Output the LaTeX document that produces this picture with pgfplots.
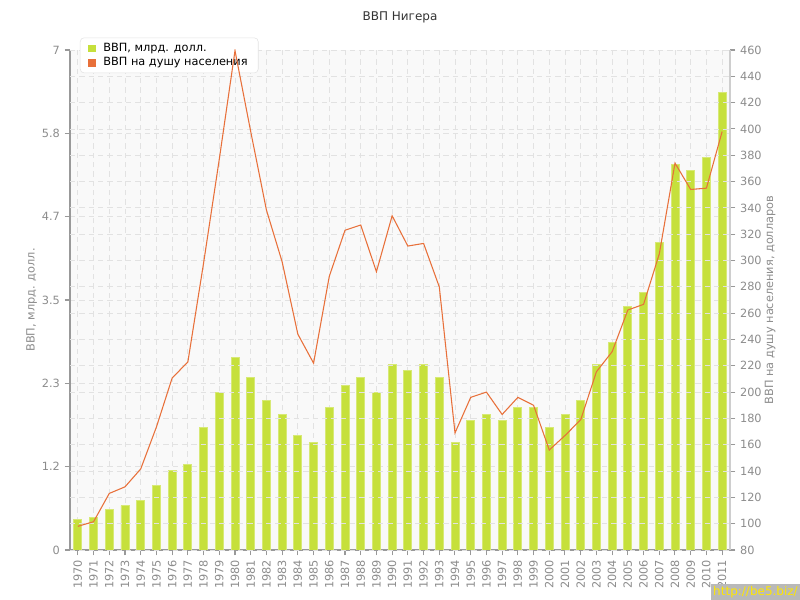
\documentclass[border=0pt]{standalone}
\usepackage{pgfplots}
\usepackage{pgfplotstable}
\pgfplotsset{compat=1.18}
\usepackage{fontspec}
\setmainfont{DejaVu Sans}

\definecolor{barc}{HTML}{C6E03C}
\definecolor{linec}{HTML}{E8703A}
\definecolor{gridc}{HTML}{E2E2E2}
\definecolor{axc}{HTML}{999999}
\definecolor{txtc}{HTML}{8C8C8C}
\definecolor{bgc}{HTML}{F9F9F9}

% year, GDP (bn USD), GDP per capita (USD)
\pgfplotstableread{
year gdp pc
1970 0.43 98
1971 0.46 101.5
1972 0.57 123
1973 0.62 128
1974 0.70 141.6
1975 0.90 173.5
1976 1.11 210.7
1977 1.20 222.9
1978 1.71 298
1979 2.21 377
1980 2.70 459.5
1981 2.41 398
1982 2.10 338.4
1983 1.90 299
1984 1.61 244
1985 1.51 222
1986 2.00 288
1987 2.31 323
1988 2.41 327
1989 2.21 291.5
1990 2.60 334
1991 2.51 311
1992 2.60 313
1993 2.41 280
1994 1.50 169
1995 1.81 196
1996 1.90 200
1997 1.81 183
1998 2.00 196
1999 2.00 190
2000 1.71 156
2001 1.90 167
2002 2.10 179
2003 2.60 215.5
2004 2.90 230.7
2005 3.41 262.4
2006 3.61 266.7
2007 4.31 305
2008 5.40 374
2009 5.31 354
2010 5.50 355
2011 6.41 398
}\niger

\begin{document}
\begin{tikzpicture}
\useasboundingbox (0pt,0pt) rectangle (600pt,450pt);
\fill[bgc] (52.5pt,37.5pt) rectangle (547.5pt,412.5pt);

\pgfplotsset{
  base/.style={
    scale only axis, width=495pt, height=375pt,
    at={(52.5pt,37.5pt)}, anchor=south west,
    xmin=1969.5, xmax=2011.5,
    font=\fontsize{8.5}{10}\selectfont,
    /pgf/number format/assume math mode=true,
    tick style={axc, line width=0.8pt},
    major tick length=4pt,
    grid style={gridc, dashed, dash pattern=on 4pt off 3pt, line width=0.6pt},
  },
  sq/.style={legend image code/.code={
    \fill[#1, sharp corners] (0pt,-2.5pt) rectangle (5pt,2.5pt);
    \fill[white, opacity=0, sharp corners] (5pt,-2.5pt) rectangle (9pt,2.5pt);}},
}

% bars, left axis
\begin{axis}[base,
  axis y line*=left, axis x line*=bottom,
  axis line style={axc, line width=0.8pt, -},
  ymin=0, ymax=7,
  ytick={0,1.16667,2.33333,3.5,4.66667,5.83333,7},
  yticklabels={0,1.2,2.3,3.5,4.7,5.8,7},
  yticklabel style={txtc},
  xtick={1970,...,2011},
  xticklabel style={txtc, rotate=90, anchor=east, /pgf/number format/1000 sep=},
  xmajorgrids, ymajorgrids,
  tick align=outside,
  ylabel={ВВП, млрд. долл.},
  ylabel style={txtc, at={(axis description cs:-0.058,0.5)}, anchor=center, rotate=0},
]
\addplot[ybar, bar width=6pt, fill=barc, draw=barc!70!white, line width=0.6pt]
  table[x=year, y=gdp] {\niger};
\end{axis}

% right axis, its grid and the legend
\begin{axis}[base,
  axis y line*=right, axis x line=none,
  axis line style={gridc!80!gray, line width=0.8pt, -},
  ymin=80, ymax=460,
  ytick={80,100,...,460},
  yticklabel style={txtc},
  ymajorgrids,
  tick align=outside,
  ylabel={ВВП на душу населения, долларов},
  ylabel style={txtc, at={(axis description cs:1.061,0.5)}, anchor=center, rotate=0},
  legend style={at={(axis description cs:0.015,1.025)}, anchor=north west,
    draw=gridc, fill=white, rounded corners=3pt,
    font=\fontsize{8.5}{10}\selectfont, row sep=-1pt,
    inner xsep=6pt, inner ysep=2pt},
  legend cell align=left,
]
\addlegendimage{sq=barc}
\addlegendentry{ВВП, млрд. долл.}
\addlegendimage{sq=linec}
\addlegendentry{ВВП на душу населения}
\end{axis}

% per-capita line, drawn last
\begin{axis}[base,
  axis lines=none,
  ymin=80, ymax=460,
]
\addplot[linec, line width=0.8pt, mark=none] table[x=year, y=pc] {\niger};
\end{axis}

\node[font=\fontsize{9}{11}\selectfont, text=black!80] at (300pt,437.25pt) {ВВП Нигера};
\node[anchor=south east, fill=gray!55, text=yellow!90!orange, inner sep=1.5pt,
  font=\fontsize{9}{10}\selectfont] at (600pt,0pt) {http://be5.biz/};
\end{tikzpicture}
\end{document}
